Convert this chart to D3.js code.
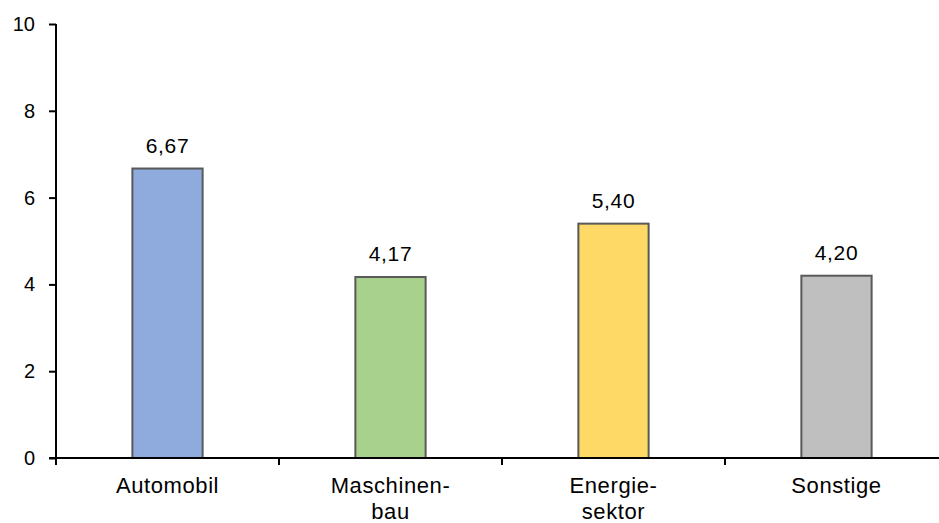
<!DOCTYPE html>
<html>
<head>
<meta charset="utf-8">
<script src="https://cdn.jsdelivr.net/npm/d3@7"></script>
<style>
  html, body { margin: 0; padding: 0; background: #fff; }
  svg { display: block; font-family: "Liberation Sans", Arial, sans-serif; }
</style>
</head>
<body>
<svg id="chart" width="939" height="523"></svg>
<script>
// Sector values (decimal comma in labels)
const categories = [["Automobil"], ["Maschinen-", "bau"], ["Energie-", "sektor"], ["Sonstige"]];
const values = [6.67, 4.17, 5.40, 4.20];
const colors = ["#8faadc", "#a9d18e", "#ffd966", "#bfbfbf"];
const yTicks = [0, 2, 4, 6, 8, 10];

const svg = d3.select("#chart");
const plotL = 56, plotR = 948, plotT = 24, plotB = 458;

const x = d3.scaleBand()
  .domain(d3.range(categories.length))
  .range([plotL, plotR])
  .paddingInner(0.685)
  .paddingOuter(0.3425);

const bandX = d3.scaleBand()
  .domain(d3.range(categories.length))
  .range([plotL, plotR]);

const y = d3.scaleLinear().domain([0, 10]).range([plotB, plotT]);

const fmt = v => d3.format(".2f")(v).replace(".", ",");

// bars
svg.append("g").selectAll("rect")
  .data(values)
  .join("rect")
  .attr("x", (d, i) => x(i))
  .attr("y", d => y(d))
  .attr("width", x.bandwidth())
  .attr("height", d => y(0) - y(d))
  .attr("fill", (d, i) => colors[i])
  .attr("stroke", "#595959")
  .attr("stroke-width", 2);

// value labels
svg.append("g").selectAll("text")
  .data(values)
  .join("text")
  .attr("x", (d, i) => x(i) + x.bandwidth() / 2)
  .attr("y", d => y(d) - 16)
  .attr("text-anchor", "middle")
  .attr("font-size", 21)
  .attr("letter-spacing", 0.7)
  .attr("fill", "#000")
  .text(d => fmt(d));

// y axis
const yAxis = d3.axisLeft(y).tickValues(yTicks).tickSize(7).tickPadding(14)
  .tickFormat(d3.format("d"));
const gy = svg.append("g").attr("transform", `translate(${plotL},0)`).call(yAxis);
gy.select(".domain").attr("stroke", "#000").attr("stroke-width", 2)
  .attr("d", `M0,${plotT}V${plotB}`);
gy.selectAll(".tick line").attr("stroke", "#000").attr("stroke-width", 2);
gy.selectAll(".tick text").attr("font-size", 20).attr("fill", "#000")
  .attr("font-family", "Liberation Sans, Arial, sans-serif");

// x axis with ticks between categories
const gx = svg.append("g").attr("transform", `translate(0,${plotB})`);
gx.append("line").attr("x1", plotL - 7).attr("x2", plotR)
  .attr("stroke", "#000").attr("stroke-width", 2);
gx.selectAll("line.tk")
  .data(d3.range(categories.length + 1))
  .join("line")
  .attr("class", "tk")
  .attr("x1", i => plotL + i * bandX.bandwidth())
  .attr("x2", i => plotL + i * bandX.bandwidth())
  .attr("y1", 0).attr("y2", 7)
  .attr("stroke", "#000").attr("stroke-width", 2);

const labels = gx.selectAll("text")
  .data(categories)
  .join("text")
  .attr("text-anchor", "middle")
  .attr("font-size", 22)
  .attr("letter-spacing", 0.6)
  .attr("fill", "#000");
labels.each(function (lines, i) {
  const t = d3.select(this);
  lines.forEach((ln, k) => {
    t.append("tspan")
      .attr("x", x(i) + x.bandwidth() / 2)
      .attr("y", 35 + k * 26)
      .text(ln);
  });
});
</script>
</body>
</html>
